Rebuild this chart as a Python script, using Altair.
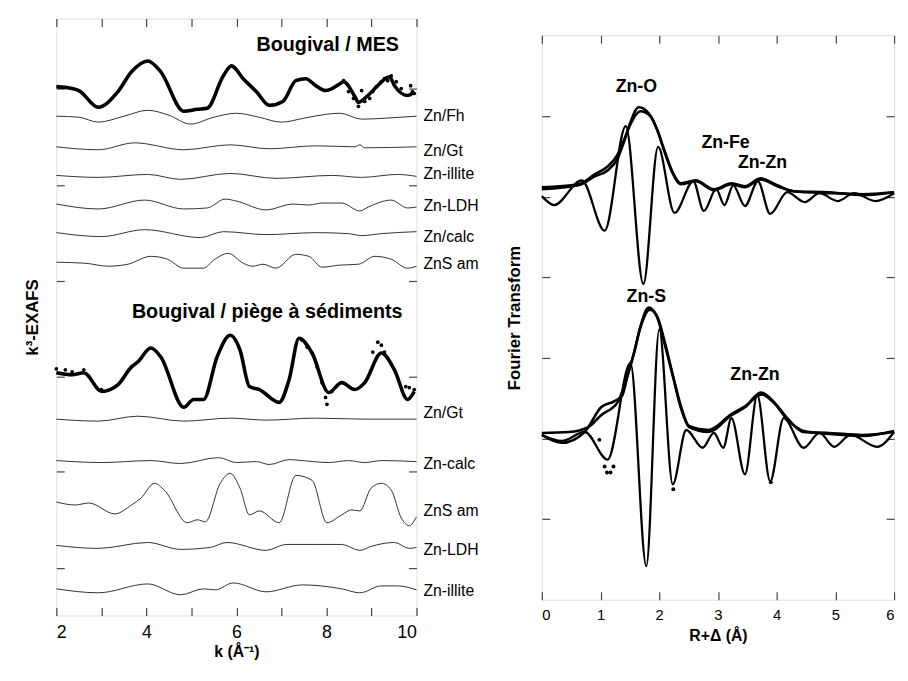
import altair as alt
import pandas as pd

# ---------------- LEFT PANEL: k3-EXAFS (k in 1/Angstrom, stacked arbitrary units) ----------------
mes_fit_k = [2.00, 2.35, 2.50, 2.93, 3.37, 3.67, 4.03, 4.32, 4.83, 5.13, 5.35, 5.71, 5.89, 6.15, 6.44,
             6.73, 7.03, 7.32, 7.54, 7.76, 7.98, 8.27, 8.38, 8.63, 8.71, 8.92, 9.14, 9.40, 9.51, 9.80, 9.95]
mes_fit_y = [536, 534, 532, 515, 531, 551, 562, 551, 511, 513, 514, 547, 557, 544, 531,
             517, 521, 542, 544, 537, 532, 538, 541, 526, 520, 527, 537, 546, 537, 527, 531]
mes_exp_k = [8.38, 8.49, 8.60, 8.71, 8.78, 8.85, 8.96, 9.03, 9.11, 9.22, 9.29, 9.36, 9.44, 9.55, 9.66, 9.87, 9.91, 9.95]
mes_exp_y = [542, 531, 524, 516, 532, 521, 524, 531, 536, 541, 544, 542, 547, 541, 534, 537, 531, 529]

pie_fit_k = [2.00, 2.35, 2.61, 3.01, 3.37, 3.67, 3.81, 4.10, 4.32, 4.83, 5.05, 5.27, 5.57, 5.86, 6.08,
             6.29, 6.51, 6.95, 7.17, 7.39, 7.68, 8.05, 8.34, 8.63, 8.85, 9.22, 9.51, 9.80, 9.95]
pie_fit_y = [246, 244, 246, 227, 234, 252, 257, 271, 262, 211, 219, 219, 262, 284, 269,
             232, 229, 216, 239, 281, 266, 226, 236, 229, 236, 266, 249, 219, 227]
pie_exp_k = [2.00, 2.20, 2.35, 2.61, 3.00, 7.46, 7.57, 7.68, 7.79, 7.90, 7.98, 8.01, 8.12,
             9.03, 9.14, 9.22, 9.29, 9.76, 9.84, 9.95]
pie_exp_y = [250, 249, 247, 249, 229, 279, 272, 266, 252, 236, 221, 214, 227,
             267, 277, 274, 267, 232, 231, 229]

comp_names = ["up_Fh", "up_Gt", "up_illite", "up_LDH", "up_calc", "up_ZnS",
              "lo_Gt", "lo_calc", "lo_ZnS", "lo_LDH", "lo_illite"]
comp_k = [
    [2, 2.5, 2.93, 3.5, 4.03, 4.5, 4.98, 5.5, 6.0, 6.5, 7.0, 7.5, 8.0, 8.3, 8.78, 9.3, 10],
    [2, 2.93, 3.74, 4.83, 5.86, 6.73, 7.76, 8.63, 8.74, 8.85, 10],
    [2, 2.93, 4.03, 4.76, 5.86, 6.88, 8.12, 8.78, 9.58, 10],
    [2, 2.93, 3.96, 4.83, 5.35, 5.75, 6.0, 6.66, 7.25, 7.61, 7.9, 8.34, 8.74, 8.93, 9.44, 9.8, 10],
    [2, 3.0, 3.96, 5.2, 5.71, 6.66, 7.76, 8.49, 8.78, 9.22, 10],
    [2, 2.64, 3.15, 3.59, 4.1, 4.47, 4.83, 5.27, 5.49, 5.82, 6.15, 6.37, 6.59, 6.88, 7.32, 7.61, 7.9,
     8.27, 8.71, 9.07, 9.44, 9.8, 10],
    [2, 2.93, 3.81, 4.83, 5.86, 6.66, 7.76, 8.85, 10],
    [2, 3.01, 4.1, 4.76, 5.6, 6.0, 6.44, 6.73, 7.17, 7.46, 8.05, 8.49, 8.85, 9.22, 10],
    [2, 2.42, 2.72, 3.3, 3.67, 3.88, 4.18, 4.4, 4.91, 5.13, 5.31, 5.64, 5.86, 6.08, 6.29, 6.51, 6.95,
     7.32, 7.68, 8.01, 8.34, 8.56, 8.74, 8.99, 9.22, 9.44, 9.66, 9.84, 10],
    [2, 2.93, 4.03, 4.76, 5.42, 5.79, 6.66, 7.1, 7.76, 8.34, 8.74, 8.99, 9.51, 9.84, 10],
    [2, 2.93, 4.03, 4.76, 5.27, 5.53, 5.93, 6.66, 7.46, 8.34, 8.74, 9.22, 9.58, 10],
]
comp_y = [
    [506, 505, 500, 506, 512, 507, 498, 505, 509, 505, 500, 504, 508, 509, 503, 504, 506],
    [475, 472, 479, 472, 477, 473, 476, 475, 477, 474, 475],
    [446, 444, 447, 442, 448, 443, 446, 444, 447, 445],
    [417, 412, 421, 412, 413, 422, 420, 411, 417, 416, 418, 418, 410, 414, 421, 413, 414],
    [388, 384, 391, 383, 389, 386, 388, 387, 385, 387, 389],
    [358, 357, 354, 356, 364, 361, 352, 352, 360, 367, 357, 354, 356, 352, 366, 364, 353,
     355, 356, 364, 361, 352, 354],
    [199, 197, 202, 197, 200, 198, 200, 199, 199],
    [157, 155, 157, 154, 160, 155, 156, 153, 158, 157, 155, 157, 155, 157, 156],
    [115, 112, 114, 103, 112, 119, 134, 127, 94, 97, 95, 134, 144, 129, 102, 106, 94,
     142, 137, 94, 102, 107, 106, 129, 134, 127, 99, 91, 100],
    [71, 68, 74, 67, 69, 74, 66, 72, 72, 72, 66, 70, 74, 68, 69],
    [27, 23, 32, 21, 27, 26, 33, 24, 31, 27, 23, 30, 30, 26],
]

left_labels = ["Zn/Fh", "Zn/Gt", "Zn-illite", "Zn-LDH", "Zn/calc", "ZnS am",
               "Zn/Gt", "Zn-calc", "ZnS am", "Zn-LDH", "Zn-illite"]
left_label_y = [506, 471, 447, 415, 384, 356, 205, 153, 106, 66, 25]

left_titles = ["Bougival / MES", "Bougival / pi\u00e8ge \u00e0 s\u00e9diments"]
left_title_k = [9.61, 9.69]
left_title_y = [572, 301]

left_yticks = [48.5, 145.5, 242.5, 339.5, 436.5, 533.5]

# ---------------- RIGHT PANEL: Fourier transforms (R+delta in Angstrom) ----------------
up_mag_fit_r = [0, 0.62, 0.9, 1.12, 1.29, 1.4, 1.51, 1.65, 1.82, 1.96, 2.09, 2.23, 2.37, 2.62,
                2.93, 3.23, 3.46, 3.73, 4.01, 4.29, 4.9, 5.46, 6.0]
up_mag_fit_y = [416, 420, 429, 435, 447, 464, 484, 499, 493, 477, 454, 432, 421, 424,
                415, 421, 418, 426, 419, 414, 412, 411, 413]
up_mag_exp_r = [0, 0.62, 0.9, 1.12, 1.29, 1.4, 1.51, 1.68, 1.85, 1.96, 2.09, 2.23, 2.37, 2.62,
                2.93, 3.23, 3.46, 3.73, 4.01, 4.29, 4.9, 5.46, 6.0]
up_mag_exp_y = [418, 421, 431, 439, 451, 466, 482, 495, 490, 477, 455, 433, 422, 425,
                416, 422, 419, 427, 420, 414, 413, 410, 413]
up_im_r = [0, 0.21, 0.68, 1.07, 1.43, 1.73, 1.98, 2.26, 2.58, 2.76, 2.97, 3.11, 3.26, 3.46,
           3.68, 3.89, 4.18, 4.48, 4.73, 5.04, 5.32, 5.68, 6.0]
up_im_y = [409, 400, 425, 374, 480, 320, 459, 392, 424, 394, 416, 400, 420, 399,
           424, 391, 413, 403, 412, 404, 412, 404, 412]

lo_mag_fit_r = [0, 0.46, 0.79, 1.01, 1.29, 1.46, 1.57, 1.68, 1.82, 1.96, 2.07, 2.23, 2.37, 2.51,
                2.84, 3.23, 3.46, 3.73, 3.96, 4.18, 4.46, 4.9, 5.46, 6.0]
lo_mag_fit_y = [169, 170, 175, 187, 200, 227, 250, 277, 296, 287, 264, 227, 194, 175,
                170, 187, 195, 210, 200, 184, 170, 169, 167, 170]
lo_mag_exp_r = [0, 0.34, 0.73, 1.01, 1.23, 1.37, 1.46, 1.57, 1.68, 1.84, 1.98, 2.09, 2.23, 2.37,
                2.51, 2.84, 3.23, 3.46, 3.75, 3.96, 4.18, 4.46, 4.9, 5.46, 6.0]
lo_mag_exp_y = [167, 159, 170, 195, 201, 207, 227, 250, 276, 294, 285, 262, 228, 196,
                176, 172, 188, 196, 208, 199, 183, 171, 168, 166, 171]
lo_im_r = [0, 0.34, 0.73, 1.12, 1.51, 1.78, 2.0, 2.23, 2.46, 2.74, 2.93, 3.09, 3.23, 3.46,
           3.67, 3.89, 4.12, 4.46, 4.73, 4.98, 5.26, 5.71, 6.0]
lo_im_y = [167, 161, 170, 142, 240, 34, 274, 117, 172, 154, 169, 154, 184, 127,
           207, 120, 184, 154, 169, 155, 167, 155, 170]
lo_im_exp_r = [0.98, 1.07, 1.11, 1.17, 1.22, 2.24, 3.90]
lo_im_exp_y = [162, 135, 129, 129, 135, 112, 119]

right_labels = ["Zn-O", "Zn-Fe", "Zn-Zn", "Zn-S", "Zn-Zn"]
right_label_r = [1.61, 3.13, 3.76, 1.78, 3.63]
right_label_y = [515, 458, 438, 302, 223]

right_yticks = [81.7, 163.4, 245.1, 326.8, 408.5, 490.2]

FONT = "Liberation Sans"
INK = "#000000"
TICK = "#444444"


def frame(xs, ys, name, xname):
    return pd.DataFrame({xname: xs, "y": ys, "series": name})


# ---------- build left panel ----------
comp_df = pd.concat([frame(k, y, n, "k") for k, y, n in zip(comp_k, comp_y, comp_names)])
fit_df = pd.concat([frame(mes_fit_k, mes_fit_y, "MES", "k"), frame(pie_fit_k, pie_fit_y, "piege", "k")])
exp_df = pd.concat([frame(mes_exp_k, mes_exp_y, "MES", "k"), frame(pie_exp_k, pie_exp_y, "piege", "k")])
lab_df = pd.DataFrame({"k": [10] * len(left_labels), "y": left_label_y, "t": left_labels})
tit_df = pd.DataFrame({"k": left_title_k, "y": left_title_y, "t": left_titles})

LW, LH = 365, 605
xs_l = alt.Scale(domain=[2, 10], nice=False, zero=False)
ys_l = alt.Scale(domain=[0, 605], nice=False, zero=False)
kvals = list(range(2, 11))

ax_common = dict(domain=False, grid=False, tickSize=8, offset=-8, tickColor=TICK, tickWidth=1.2)

comp = alt.Chart(comp_df).mark_line(color="#1a1a1a", strokeWidth=0.9, interpolate="monotone").encode(
    x=alt.X("k:Q", scale=xs_l, axis=alt.Axis(
        orient="bottom", values=kvals, labelExpr="datum.value % 2 == 0 ? datum.label : ''",
        labelFontSize=18, labelPadding=8, labelColor=INK, labelFont=FONT,
        title="k (\u00c5\u207b\u00b9)", titleFontSize=16, titleFont=FONT, titleFontWeight="bold",
        titleColor=INK, titlePadding=3, **ax_common)),
    y=alt.Y("y:Q", scale=ys_l, axis=alt.Axis(
        orient="left", values=left_yticks, labels=False,
        title="k\u00b3-EXAFS", titleFontSize=17, titleFont=FONT, titleFontWeight="bold",
        titleColor=INK, titlePadding=14, **ax_common)),
    detail="series:N",
)
fit = alt.Chart(fit_df).mark_line(color=INK, strokeWidth=3.6, interpolate="monotone").encode(
    x=alt.X("k:Q", scale=xs_l, axis=None), y=alt.Y("y:Q", scale=ys_l, axis=None), detail="series:N")
exp_pts = alt.Chart(exp_df).mark_circle(color=INK, size=14, opacity=1).encode(
    x=alt.X("k:Q", scale=xs_l, axis=alt.Axis(orient="top", values=kvals, labels=False, title=None, **ax_common)),
    y=alt.Y("y:Q", scale=ys_l, axis=alt.Axis(orient="right", values=left_yticks, labels=False, title=None, **ax_common)),
)
labs = alt.Chart(lab_df).mark_text(align="left", baseline="middle", dx=7, fontSize=16, font=FONT, color=INK).encode(
    x=alt.X("k:Q", scale=xs_l, axis=None), y=alt.Y("y:Q", scale=ys_l, axis=None), text="t:N")
tits = alt.Chart(tit_df).mark_text(align="right", baseline="alphabetic", fontSize=20, font=FONT,
                                   fontWeight="bold", color=INK).encode(
    x=alt.X("k:Q", scale=xs_l, axis=None), y=alt.Y("y:Q", scale=ys_l, axis=None), text="t:N")

left = alt.layer(comp, fit, exp_pts, labs, tits).resolve_axis(x="independent", y="independent").properties(
    width=LW, height=LH)

# ---------- build right panel ----------
mag_df = pd.concat([
    frame(up_mag_fit_r, up_mag_fit_y, "up_fit", "r"), frame(up_mag_exp_r, up_mag_exp_y, "up_exp", "r"),
    frame(lo_mag_fit_r, lo_mag_fit_y, "lo_fit", "r"), frame(lo_mag_exp_r, lo_mag_exp_y, "lo_exp", "r")])
im_df = pd.concat([frame(up_im_r, up_im_y, "up_im", "r"), frame(lo_im_r, lo_im_y, "lo_im", "r")])
imexp_df = frame(lo_im_exp_r, lo_im_exp_y, "lo_im_exp", "r")
rlab_df = pd.DataFrame({"r": right_label_r, "y": right_label_y, "t": right_labels})

RW, RH = 357, 572
xs_r = alt.Scale(domain=[0, 6], nice=False, zero=False)
ys_r = alt.Scale(domain=[0, 572], nice=False, zero=False)
rvals = list(range(0, 7))

mag = alt.Chart(mag_df).mark_line(color=INK, strokeWidth=2.6, interpolate="monotone").encode(
    x=alt.X("r:Q", scale=xs_r, axis=alt.Axis(
        orient="bottom", values=rvals, labelFontSize=15, labelPadding=8, labelColor=INK, labelFont=FONT,
        title="R+\u0394 (\u00c5)", titleFontSize=16, titleFont=FONT, titleFontWeight="bold",
        titleColor=INK, titlePadding=5, **ax_common)),
    y=alt.Y("y:Q", scale=ys_r, axis=alt.Axis(
        orient="left", values=right_yticks, labels=False,
        title="Fourier Transform", titleFontSize=17, titleFont=FONT, titleFontWeight="bold",
        titleColor=INK, titlePadding=18, **ax_common)),
    detail="series:N",
)
im = alt.Chart(im_df).mark_line(color=INK, strokeWidth=2.3, interpolate="monotone").encode(
    x=alt.X("r:Q", scale=xs_r, axis=None), y=alt.Y("y:Q", scale=ys_r, axis=None), detail="series:N")
imexp = alt.Chart(imexp_df).mark_circle(color=INK, size=16, opacity=1).encode(
    x=alt.X("r:Q", scale=xs_r, axis=alt.Axis(orient="top", values=rvals, labels=False, title=None, **ax_common)),
    y=alt.Y("y:Q", scale=ys_r, axis=alt.Axis(orient="right", values=right_yticks, labels=False, title=None, **ax_common)),
)
rlabs = alt.Chart(rlab_df).mark_text(align="center", baseline="alphabetic", fontSize=18, font=FONT,
                                     fontWeight="bold", color=INK).encode(
    x=alt.X("r:Q", scale=xs_r, axis=None), y=alt.Y("y:Q", scale=ys_r, axis=None), text="t:N")

right = alt.layer(mag, im, imexp, rlabs).resolve_axis(x="independent", y="independent").properties(
    width=RW, height=RH)

chart = alt.hconcat(left, right, spacing=25, center=True).properties(
    padding={"left": 15, "top": 5, "right": 0, "bottom": 0}
).configure_view(stroke="#444444", strokeWidth=1.3).configure(font=FONT, background="white")

chart.save("out.html", embed_options={"renderer": "svg", "actions": False})
